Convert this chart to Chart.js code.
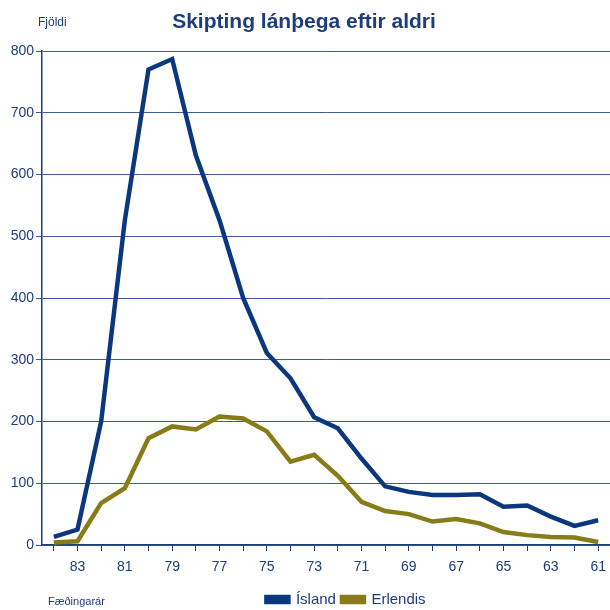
<!DOCTYPE html>
<html>
<head>
<meta charset="utf-8">
<script src="https://cdn.jsdelivr.net/npm/chart.js@4"></script>
<style>
  html, body { margin: 0; padding: 0; background: #fff; }
  #wrap { width: 610px; height: 610px; }
</style>
</head>
<body>
<div id="wrap"><canvas id="ageChart" width="610" height="610"></canvas></div>
<script>
// birth years, 1984 down to 1961
const years = ["84","83","82","81","80","79","78","77","76","75","74","73",
               "72","71","70","69","68","67","66","65","64","63","62","61"];
const island   = [13, 25, 200, 526, 770, 787, 631, 526, 400, 311, 270, 207,
                  189, 140, 95, 86, 81, 81, 82, 62, 64, 46, 31, 40];
const erlendis = [4, 6, 68, 92, 173, 192, 187, 208, 205, 184, 135, 146,
                  112, 70, 55, 50, 38, 42, 35, 21, 16, 13, 12, 5];
const yTicks = [0, 100, 200, 300, 400, 500, 600, 700, 800];

const navy = "#1c3c7c";
const fam = "'Liberation Sans', Arial, sans-serif";

// extra captions: title, y-axis caption, x-axis caption
const captions = {
  id: "captions",
  afterLayout(chart) {
    // legend sits right of centre and low in the original
    const lg = chart.legend;
    lg.left += 20;
    lg.right += 20;
    lg.top += 7;
    lg.bottom += 7;
  },
  afterDraw(chart) {
    const c = chart.ctx;
    c.save();
    c.fillStyle = navy;
    c.textBaseline = "middle";
    c.font = "bold 21px " + fam;
    c.textAlign = "center";
    c.fillText("Skipting lánþega eftir aldri", 304, 22);
    c.font = "12px " + fam;
    c.textAlign = "left";
    c.fillText("Fjöldi", 38, 23);
    c.font = "11px " + fam;
    c.fillText("Fæðingarár", 48, 602);
    c.restore();
  }
};

let ageChart = null;
const ctx = document.getElementById("ageChart").getContext("2d");

ageChart = new Chart(ctx, {
  type: "line",
  data: {
    labels: years,
    datasets: [
      {
        label: "Ísland",
        data: island,
        borderColor: "#0b377f",
        backgroundColor: "#0b377f",
        borderWidth: 4.5,
        pointRadius: 0,
        tension: 0,
        fill: false
      },
      {
        label: "Erlendis",
        data: erlendis,
        borderColor: "#877c17",
        backgroundColor: "#877c17",
        borderWidth: 4.5,
        pointRadius: 0,
        tension: 0,
        fill: false
      }
    ]
  },
  options: {
    responsive: false,
    animation: false,
    layout: { padding: { top: 51, right: -6, bottom: 0, left: 0 } },
    plugins: {
      title: { display: false },
      tooltip: { enabled: false },
      legend: {
        display: true,
        position: "bottom",
        fullSize: false,
        labels: {
          color: navy,
          font: { size: 15, family: fam },
          boxWidth: 22,
          boxHeight: 5,
          padding: 6
        }
      }
    },
    scales: {
      x: {
        offset: true,
        grid: {
          offset: false,
          drawOnChartArea: false,
          color: navy,
          tickLength: 6
        },
        border: { color: navy, width: 1.5 },
        ticks: {
          autoSkip: false,
          maxRotation: 0,
          color: navy,
          font: { size: 14, family: fam },
          padding: 8,
          callback: function (val, i) {
            return i % 2 === 1 ? years[i] : "";
          }
        },
        afterFit: function (scale) {
          scale.height = 34;
          scale.paddingLeft = 0;
          scale.paddingRight = 0;
        }
      },
      y: {
        min: 0,
        max: 800,
        afterBuildTicks: function (scale) {
          scale.ticks = yTicks.map(v => ({ value: v }));
        },
        grid: {
          color: "#3e5c98",
          lineWidth: 1,
          tickLength: 6
        },
        border: { color: navy, width: 1.5 },
        ticks: {
          color: navy,
          font: { size: 14, family: fam },
          padding: 2
        },
        afterFit: function (scale) { scale.width = 42; }
      }
    }
  },
  plugins: [captions]
});
</script>
</body>
</html>
